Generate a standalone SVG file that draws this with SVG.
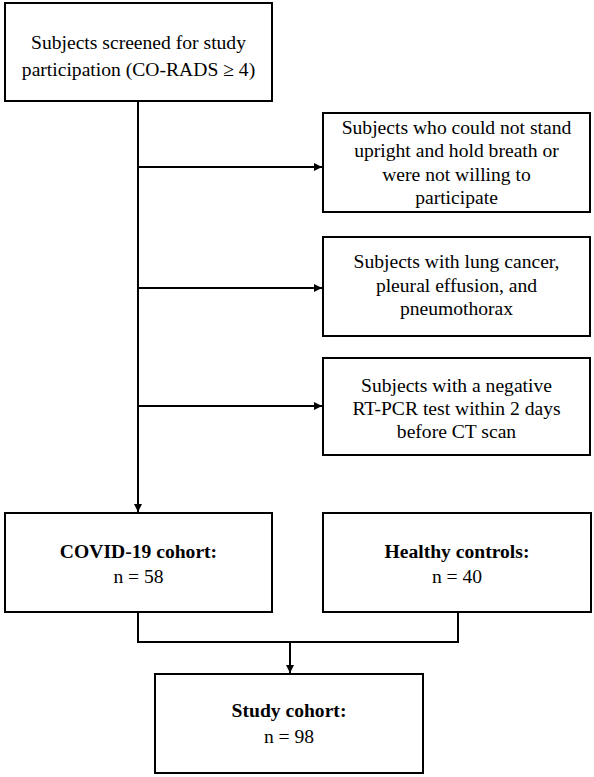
<svg xmlns="http://www.w3.org/2000/svg" width="594" height="777" viewBox="0 0 594 777">
<style>
.box{fill:#fff;stroke:#000;stroke-width:2}
.t{font-family:"Liberation Serif","Times New Roman",serif;font-size:19.6px;fill:#000;text-anchor:middle}
.b{font-weight:bold}
.ln{fill:none;stroke:#000;stroke-width:2}
</style>
<defs>
<marker id="ah" viewBox="0 0 10 10" refX="10" refY="5" markerWidth="4" markerHeight="4" orient="auto" markerUnits="strokeWidth">
<path d="M0,0 L10,5 L0,10 z" fill="#000"/>
</marker>
</defs>
<g id="connectors">
<line class="ln" x1="138" y1="102" x2="138" y2="512" marker-end="url(#ah)"/>
<line class="ln" x1="138" y1="167" x2="322" y2="167" marker-end="url(#ah)"/>
<line class="ln" x1="138" y1="288" x2="322" y2="288" marker-end="url(#ah)"/>
<line class="ln" x1="138" y1="406" x2="322" y2="406" marker-end="url(#ah)"/>
<polyline class="ln" points="138,612 138,642 458,642 458,612"/>
<line class="ln" x1="290" y1="642" x2="290" y2="673" marker-end="url(#ah)"/>
</g>
<g id="screened">
<rect class="box" x="5" y="3" width="267" height="98"/>
<text class="t" x="138.5" y="49">Subjects screened for study</text>
<text class="t" x="138.5" y="76">participation (CO-RADS ≥ 4)</text>
</g>
<g id="excl1">
<rect class="box" x="323" y="113" width="267" height="99"/>
<text class="t" x="456.5" y="134">Subjects who could not stand</text>
<text class="t" x="456.5" y="157">upright and hold breath or</text>
<text class="t" x="456.5" y="181">were not willing to</text>
<text class="t" x="456.5" y="204">participate</text>
</g>
<g id="excl2">
<rect class="box" x="323" y="237" width="267" height="99"/>
<text class="t" x="456.5" y="268">Subjects with lung cancer,</text>
<text class="t" x="456.5" y="292">pleural effusion, and</text>
<text class="t" x="456.5" y="315">pneumothorax</text>
</g>
<g id="excl3">
<rect class="box" x="323" y="358" width="267" height="97"/>
<text class="t" x="456.5" y="392">Subjects with a negative</text>
<text class="t" x="456.5" y="415">RT-PCR test within 2 days</text>
<text class="t" x="456.5" y="438">before CT scan</text>
</g>
<g id="covid">
<rect class="box" x="5" y="513" width="267" height="99"/>
<text class="t b" x="138.5" y="558">COVID-19 cohort:</text>
<text class="t" x="138.5" y="583">n = 58</text>
</g>
<g id="healthy">
<rect class="box" x="323" y="513" width="268" height="99"/>
<text class="t b" x="457" y="558">Healthy controls:</text>
<text class="t" x="457" y="583">n = 40</text>
</g>
<g id="study">
<rect class="box" x="155" y="674" width="268" height="99"/>
<text class="t b" x="289" y="717">Study cohort:</text>
<text class="t" x="289" y="743">n = 98</text>
</g>
</svg>
